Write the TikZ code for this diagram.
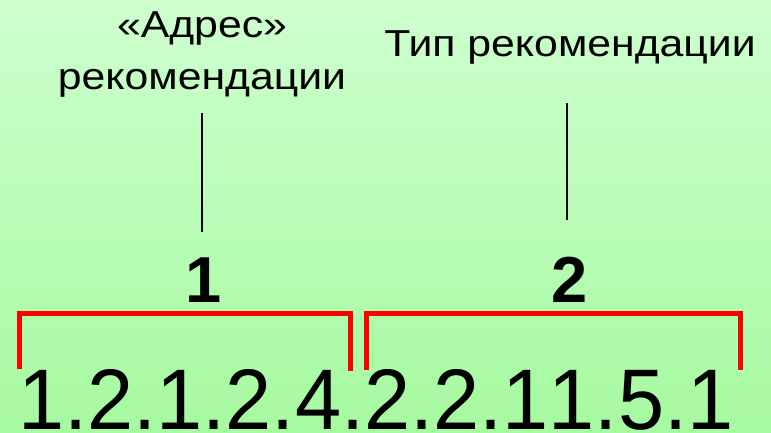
\documentclass[tikz,border=0pt]{standalone}
\usepackage{fontspec}
\setmainfont{Liberation Sans}
\newfontfamily\labelfont[FakeStretch=1.14]{Liberation Sans}
\newfontfamily\codefont[FakeStretch=0.965,Kerning=Off]{Liberation Sans}
\definecolor{bgtop}{RGB}{206,255,206}
\definecolor{bgbot}{RGB}{166,250,160}
\definecolor{brk}{RGB}{255,0,0}
\tikzset{
  lbl/.style={inner sep=0pt, anchor=base, font=\labelfont\fontsize{37.5}{52}\selectfont, align=center},
  idx/.style={inner sep=0pt, anchor=base, font=\bfseries\fontsize{65}{65}\selectfont},
  code/.style={inner sep=0pt, anchor=base west, text depth=0pt, font=\codefont\fontsize{86}{86}\selectfont},
  pointer/.style={draw=black, line width=1.6pt},
  bracket/.style={draw=brk, line width=5pt, line join=miter, line cap=butt}
}
\begin{document}
\begin{tikzpicture}[x=1pt, y=-1pt]
\useasboundingbox (0,0) rectangle (771,433);
\shade[top color=bgtop, bottom color=bgbot] (0,0) rectangle (771,433);
% labels
\node[lbl] (addr) at (202,90) {«Адрес»\\рекомендации};
\node[lbl] (type) at (570,57) {Тип рекомендации};
% pointer lines
\coordinate (p1a) at (202,113);
\coordinate (p1b) at (202,232);
\coordinate (p2a) at (567,103);
\coordinate (p2b) at (567,220);
\draw[pointer] (p1a) -- (p1b);
\draw[pointer] (p2a) -- (p2b);
% indices
\node[idx] (one) at (204,302) {1};
\node[idx] (two) at (570,302) {2};
% brackets
\draw[bracket] (19.5,369) -- (19.5,313.5) -- (350.5,313.5) -- (350.5,371);
\draw[bracket] (366.5,370) -- (366.5,313.5) -- (740.5,313.5) -- (740.5,370);
% code
\node[code] (num) at (18,429) {1.2.1.2.4.2.2.11.5.1};
\end{tikzpicture}
\end{document}
